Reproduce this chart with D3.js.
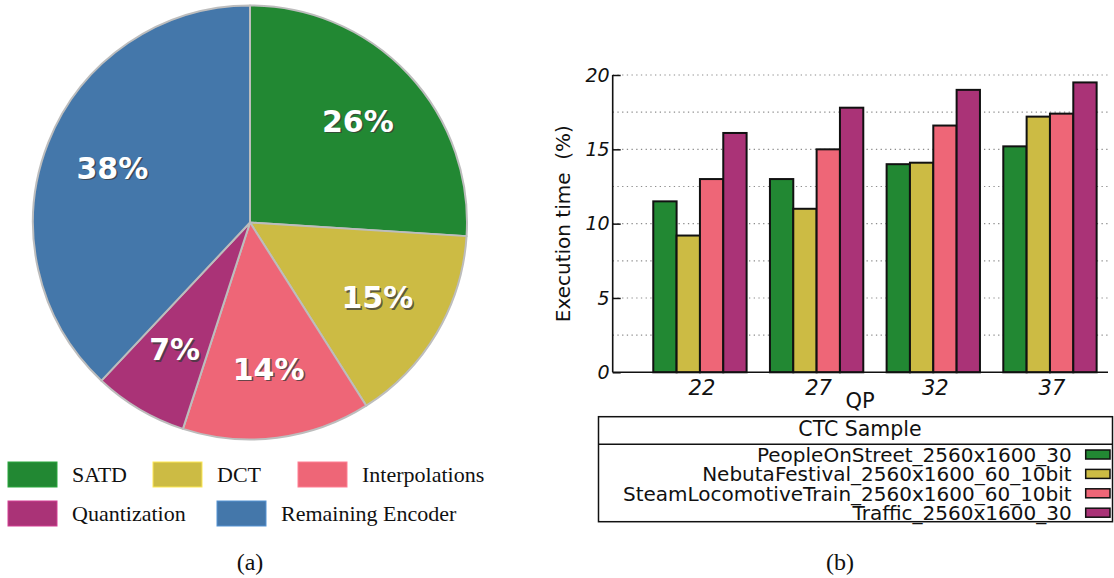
<!DOCTYPE html>
<html>
<head>
<meta charset="utf-8">
<script src="https://cdn.jsdelivr.net/npm/d3@7"></script>
<style>
  html, body { margin: 0; padding: 0; background: #fff; }
  svg { display: block; }
</style>
</head>
<body>
<svg id="chart" width="1114" height="578"></svg>
<script>
// ---- (a) share of encoder time by module ----
const pieLabels = ["SATD", "DCT", "Interpolations", "Quantization", "Remaining Encoder"];
const pieValues = [26, 15, 14, 7, 38];
const pieColors = ["#228833", "#ccbb44", "#ee6677", "#aa3377", "#4477aa"];

// ---- (b) execution time per QP and sequence ----
const qpLabels = ["22", "27", "32", "37"];
const seriesNames = [
  "PeopleOnStreet_2560x1600_30",
  "NebutaFestival_2560x1600_60_10bit",
  "SteamLocomotiveTrain_2560x1600_60_10bit",
  "Traffic_2560x1600_30"
];
const peopleOnStreet = [11.5, 13.0, 14.0, 15.2];
const nebutaFestival = [9.2, 11.0, 14.1, 17.2];
const steamLocomotive = [13.0, 15.0, 16.6, 17.4];
const traffic = [16.1, 17.8, 19.0, 19.5];
const seriesValues = [peopleOnStreet, nebutaFestival, steamLocomotive, traffic];
const seriesColors = ["#228833", "#ccbb44", "#ee6677", "#aa3377"];
const yTicks = [0, 5, 10, 15, 20];

const svg = d3.select("#chart");

// ================= Pie =================
const cx = 250, cy = 222.5, R = 217, labelR = 148;
const pieG = svg.append("g").attr("transform", `translate(${cx},${cy})`);
const pie = d3.pie().sort(null).value(d => d.v);
const arcs = pie(pieValues.map((v, i) => ({ v, i })));
const arc = d3.arc().innerRadius(0).outerRadius(R);
const labelArc = d3.arc().innerRadius(labelR).outerRadius(labelR);

pieG.selectAll("path.slice").data(arcs).enter().append("path")
  .attr("class", "slice")
  .attr("d", arc)
  .attr("fill", d => pieColors[d.data.i])
  .attr("stroke", "#bdbdbd")
  .attr("stroke-width", 2)
  .attr("stroke-linejoin", "round");

const pctFont = "'DejaVu Sans', Verdana, sans-serif";
// shadow, then white label
pieG.selectAll("text.pct-shadow").data(arcs).enter().append("text")
  .attr("class", "pct-shadow")
  .attr("transform", d => { const [x, y] = labelArc.centroid(d); return `translate(${x + 1.5},${y + 1.5})`; })
  .attr("text-anchor", "middle").attr("dominant-baseline", "central")
  .attr("font-family", pctFont).attr("font-weight", "bold").attr("font-size", 30)
  .attr("fill", "#3a3a3a").attr("opacity", 0.75)
  .text(d => d.data.v + "%");
pieG.selectAll("text.pct").data(arcs).enter().append("text")
  .attr("class", "pct")
  .attr("transform", d => { const [x, y] = labelArc.centroid(d); return `translate(${x},${y})`; })
  .attr("text-anchor", "middle").attr("dominant-baseline", "central")
  .attr("font-family", pctFont).attr("font-weight", "bold").attr("font-size", 30)
  .attr("fill", "#ffffff")
  .text(d => d.data.v + "%");

// pie legend: two rows
const pieLegendPos = [
  { x: 8, y: 462 }, { x: 153, y: 462 }, { x: 298, y: 462 },
  { x: 8, y: 501 }, { x: 217, y: 501 }
];
const serif = "'Liberation Serif', 'Times New Roman', serif";
const pl = svg.append("g").selectAll("g").data(pieLabels).enter().append("g")
  .attr("transform", (d, i) => `translate(${pieLegendPos[i].x},${pieLegendPos[i].y})`);
pl.append("rect").attr("width", 49).attr("height", 25)
  .attr("fill", (d, i) => pieColors[i])
  .attr("stroke", (d, i) => d3.color(pieColors[i]).brighter(0.6))
  .attr("stroke-width", 1);
pl.append("text").attr("x", 64).attr("y", 20)
  .attr("font-family", serif).attr("font-size", 22).attr("fill", "#111")
  .text(d => d);

svg.append("text").attr("x", 250).attr("y", 570).attr("text-anchor", "middle")
  .attr("font-family", serif).attr("font-size", 24).attr("fill", "#111").text("(a)");
svg.append("text").attr("x", 840).attr("y", 570).attr("text-anchor", "middle")
  .attr("font-family", serif).attr("font-size", 24).attr("fill", "#111").text("(b)");

// ================= Grouped bars =================
const sans = "'DejaVu Sans', Verdana, sans-serif";
const axisX0 = 612.7, axisX1 = 1108, yTop = 75, yBase = 372.3;
const y = d3.scaleLinear().domain([0, 20]).range([yBase, yTop]);
const x0 = d3.scaleBand().domain(qpLabels).range([641.6, 1108.3]).paddingInner(0.2).paddingOuter(0.1);
const x1 = d3.scaleBand().domain(d3.range(seriesNames.length)).range([0, x0.bandwidth()]).padding(0);

const bg = svg.append("g");

// dotted grid every 2.5
const gridVals = d3.range(2.5, 20.01, 2.5);
bg.selectAll("line.grid").data(gridVals).enter().append("line")
  .attr("class", "grid")
  .attr("x1", axisX0).attr("x2", axisX1 + 2)
  .attr("y1", d => y(d)).attr("y2", d => y(d))
  .attr("stroke", "#8c8c8c").attr("stroke-width", 1.2)
  .attr("stroke-dasharray", "1.3,3.4");

// bars
const groups = bg.selectAll("g.qp").data(qpLabels).enter().append("g")
  .attr("class", "qp").attr("transform", d => `translate(${x0(d)},0)`);
groups.selectAll("rect").data((d, gi) => seriesValues.map((s, si) => ({ si, v: s[gi] })))
  .enter().append("rect")
  .attr("x", d => x1(d.si))
  .attr("y", d => y(d.v))
  .attr("width", x1.bandwidth())
  .attr("height", d => y(0) - y(d.v))
  .attr("fill", d => seriesColors[d.si])
  .attr("stroke", "#111").attr("stroke-width", 2);

// y axis
const yAxis = d3.axisLeft(y).tickValues(yTicks).tickSize(-8).tickPadding(4);
const yg = bg.append("g").attr("transform", `translate(${axisX0},0)`).call(yAxis);
yg.select(".domain").remove();
yg.selectAll(".tick line").attr("stroke", "#111").attr("stroke-width", 1.5);
yg.selectAll(".tick text")
  .attr("x", -3)
  .attr("font-family", sans).attr("font-style", "italic").attr("font-size", 19).attr("fill", "#111");
bg.append("line").attr("x1", axisX0).attr("x2", axisX0).attr("y1", yTop).attr("y2", yBase)
  .attr("stroke", "#111").attr("stroke-width", 1.6);

// x axis
const xAxis = d3.axisBottom(x0).tickSize(0).tickPadding(8);
const xg = bg.append("g").attr("transform", `translate(0,${yBase})`).call(xAxis);
xg.select(".domain").remove();
xg.selectAll(".tick text")
  .attr("dx", 2)
  .attr("font-family", sans).attr("font-style", "italic").attr("font-size", 21).attr("fill", "#111");
bg.append("line").attr("x1", axisX0).attr("x2", axisX1).attr("y1", yBase).attr("y2", yBase)
  .attr("stroke", "#111").attr("stroke-width", 1.6);

// axis titles
bg.append("text").attr("x", 860).attr("y", 408).attr("text-anchor", "middle")
  .attr("font-family", sans).attr("font-size", 21).attr("fill", "#111").text("QP");
bg.append("text")
  .attr("transform", `translate(570,${(yTop + yBase) / 2}) rotate(-90)`)
  .attr("text-anchor", "middle")
  .style("white-space", "pre")
  .attr("font-family", sans).attr("font-size", 20).attr("fill", "#111")
  .text("Execution time  (%)");

// legend box
const lg = svg.append("g");
const boxL = 598.5, boxR = 1112.5, boxT = 416.7, boxD = 444.3, boxB = 521.7;
lg.append("rect").attr("x", boxL).attr("y", boxT).attr("width", boxR - boxL).attr("height", boxB - boxT)
  .attr("fill", "none").attr("stroke", "#111").attr("stroke-width", 1.5);
lg.append("line").attr("x1", boxL).attr("x2", boxR).attr("y1", boxD).attr("y2", boxD)
  .attr("stroke", "#111").attr("stroke-width", 1.5);
lg.append("text").attr("x", 860).attr("y", 436).attr("text-anchor", "middle")
  .attr("font-family", sans).attr("font-size", 20.5).attr("fill", "#111").text("CTC Sample");
// rows are packed tightly, as in the source plot
const entries = lg.selectAll("g.entry").data(seriesNames).enter().append("g")
  .attr("class", "entry")
  .attr("transform", (d, i) => `translate(0,${461.7 + i * 19.4})`);
entries.append("text").attr("x", 1071.7).attr("y", 0).attr("text-anchor", "end")
  .attr("font-family", sans).attr("font-size", 20).attr("fill", "#111")
  .text(d => d);
entries.append("rect").attr("x", 1085.7).attr("y", -11.7).attr("width", 24.3).attr("height", 9)
  .attr("fill", (d, i) => seriesColors[i]).attr("stroke", "#111").attr("stroke-width", 1.5);
</script>
</body>
</html>
